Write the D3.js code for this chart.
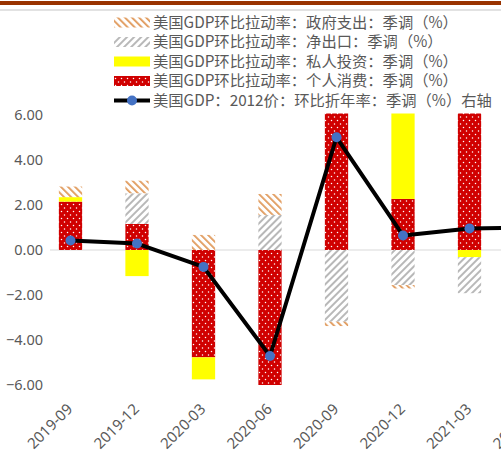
<!DOCTYPE html>
<html>
<head>
<meta charset="utf-8">
<script src="https://cdn.jsdelivr.net/npm/d3@7"></script>
<style>
  body { margin: 0; background: #fff; }
  text { font-family: "Noto Sans", "Noto Sans CJK SC", sans-serif; fill: #595959; }
  .cjk { font-family: "Noto Sans CJK SC", sans-serif; }
</style>
</head>
<body>
<script>
var width = 501;
var height = 454;

// quarters (last one is cut off at the right edge)
var quarters = ['2019-09', '2019-12', '2020-03', '2020-06', '2020-09', '2020-12', '2021-03', '2021-06'];

// contributions to GDP growth, left axis (%)
var consumption = [2.15, 1.16, -4.77, -24.0, 25.5, 2.27, 7.0, 7.9];
var investment  = [0.2, -1.16, -0.98, -15.6, 11.8, 4.2, -0.32, -0.6];
var netExports  = [0, 1.36, 0, 1.56, -3.19, -1.56, -1.6, -0.4];
var government  = [0.47, 0.56, 0.67, 0.93, -0.19, -0.15, 0.6, -0.3];

// GDP q/q annualised, right axis (%)
var gdp = [2.8, 1.9, -5.0, -31.4, 33.4, 4.3, 6.4, 6.7];

var yTicks = [6, 4, 2, 0, -2, -4, -6];

var legendLabels = [
    '美国GDP环比拉动率：政府支出：季调（%）',
    '美国GDP环比拉动率：净出口：季调（%）',
    '美国GDP环比拉动率：私人投资：季调（%）',
    '美国GDP环比拉动率：个人消费：季调（%）',
    '美国GDP：2012价：环比折年率：季调（%）右轴'
];

var keys = ['consumption', 'investment', 'netExports', 'government'];
var fills = {
    consumption: 'url(#dots)',
    investment: '#ffff00',
    netExports: 'url(#grayHatch)',
    government: 'url(#orangeHatch)'
};

var table = quarters.map(function(q, i) {
    return {
        q: q,
        consumption: consumption[i],
        investment: investment[i],
        netExports: netExports[i],
        government: government[i]
    };
});

var x = d3.scaleBand()
    .domain(quarters)
    .range([37.25, 37.25 + 66.5 * quarters.length])
    .paddingInner(0.65)
    .paddingOuter(0.325);

var y = d3.scaleLinear().domain([-6, 6]).range([385, 115]);
var y2 = d3.scaleLinear().domain([-40, 40]).range([385, 115]);

var svg = d3.select('body')
    .append('svg')
    .attr('width', width)
    .attr('height', height);

svg.append('rect').attr('width', width).attr('height', height).attr('fill', '#fff');

var defs = svg.append('defs');

var dots = defs.append('pattern')
    .attr('id', 'dots')
    .attr('patternUnits', 'userSpaceOnUse')
    .attr('width', 6)
    .attr('height', 7);
dots.append('rect').attr('width', 6).attr('height', 7).attr('fill', '#d00000');
dots.append('circle').attr('cx', 1.5).attr('cy', 1.5).attr('r', 0.75).attr('fill', '#fff');
dots.append('circle').attr('cx', 4.5).attr('cy', 5).attr('r', 0.75).attr('fill', '#fff');

function hatch(id, color, angle, w) {
    var p = defs.append('pattern')
        .attr('id', id)
        .attr('patternUnits', 'userSpaceOnUse')
        .attr('width', 5)
        .attr('height', 5)
        .attr('patternTransform', 'rotate(' + angle + ')');
    p.append('rect').attr('width', 5).attr('height', 5).attr('fill', '#fff');
    p.append('rect').attr('x', 0).attr('width', w).attr('height', 5).attr('fill', color);
}
hatch('grayHatch', '#b8b8b8', 45, 2);
hatch('orangeHatch', '#e0995a', -45, 1.8);

defs.append('clipPath').attr('id', 'plotClip')
    .append('rect')
    .attr('x', 0).attr('y', y(6) - 1.5)
    .attr('width', width).attr('height', y(-6) - y(6) + 1.5);

// top border
svg.append('rect').attr('x', 0).attr('y', 1).attr('width', width).attr('height', 4).attr('fill', '#993300');
svg.append('line').attr('x1', 0).attr('x2', width).attr('y1', 10).attr('y2', 10)
    .attr('stroke', '#d9d9d9').attr('stroke-width', 1.5);

// y axis labels
svg.append('g')
    .selectAll('text')
    .data(yTicks)
    .enter()
    .append('text')
    .attr('x', 43)
    .attr('y', function(d) { return y(d); })
    .attr('dy', '0.35em')
    .attr('text-anchor', 'end')
    .style('font-size', '14.5px')
    .text(function(d) { return d3.format('.2f')(d); });

// zero line
svg.append('line')
    .attr('x1', 50).attr('x2', width)
    .attr('y1', y(0)).attr('y2', y(0))
    .attr('stroke', '#d9d9d9').attr('stroke-width', 1.2);

var series = d3.stack().keys(keys).offset(d3.stackOffsetDiverging)(table);

var bars = svg.append('g').attr('clip-path', 'url(#plotClip)');
bars.selectAll('g')
    .data(series)
    .enter()
    .append('g')
    .attr('fill', function(s) { return fills[s.key]; })
    .selectAll('rect')
    .data(function(s) { return s; })
    .enter()
    .append('rect')
    .attr('x', function(d) { return x(d.data.q); })
    .attr('width', x.bandwidth())
    .attr('y', function(d) { return y(Math.max(d[0], d[1])); })
    .attr('height', function(d) { return Math.abs(y(d[0]) - y(d[1])); });

// GDP line (right axis)
var line = d3.line()
    .x(function(d, i) { return x(quarters[i]) + x.bandwidth() / 2; })
    .y(function(d) { return y2(d); });

svg.append('path')
    .datum(gdp)
    .attr('d', line)
    .attr('fill', 'none')
    .attr('stroke', '#000')
    .attr('stroke-width', 4)
    .attr('stroke-linejoin', 'round');

svg.append('g')
    .selectAll('circle')
    .data(gdp)
    .enter()
    .append('circle')
    .attr('cx', function(d, i) { return x(quarters[i]) + x.bandwidth() / 2; })
    .attr('cy', function(d) { return y2(d); })
    .attr('r', 5)
    .attr('fill', '#4472c4');

// x axis labels
svg.append('g')
    .selectAll('text')
    .data(quarters)
    .enter()
    .append('text')
    .attr('transform', function(d) {
        var cx = x(d) + x.bandwidth() / 2;
        return 'translate(' + (cx + 3) + ',' + 410 + ') rotate(-45)';
    })
    .attr('text-anchor', 'end')
    .style('font-size', '15px')
    .text(function(d) { return d; });

// legend
var legendFills = ['url(#orangeHatch)', 'url(#grayHatch)', '#ffff00', 'url(#dots)'];
var legend = svg.append('g');
legendLabels.forEach(function(label, i) {
    var cy = 22.5 + i * 19.5;
    if (i < 4) {
        legend.append('rect')
            .attr('x', 114).attr('y', cy - 5)
            .attr('width', 36).attr('height', 10)
            .attr('fill', legendFills[i]);
    } else {
        legend.append('line')
            .attr('x1', 114).attr('x2', 150)
            .attr('y1', cy).attr('y2', cy)
            .attr('stroke', '#000').attr('stroke-width', 4);
        legend.append('circle')
            .attr('cx', 132).attr('cy', cy).attr('r', 5)
            .attr('fill', '#4472c4');
    }
    legend.append('text')
        .attr('class', 'cjk')
        .attr('x', 153)
        .attr('y', cy)
        .attr('dy', '0.35em')
        .style('font-size', '15.3px')
        .text(label);
});
</script>
</body>
</html>
